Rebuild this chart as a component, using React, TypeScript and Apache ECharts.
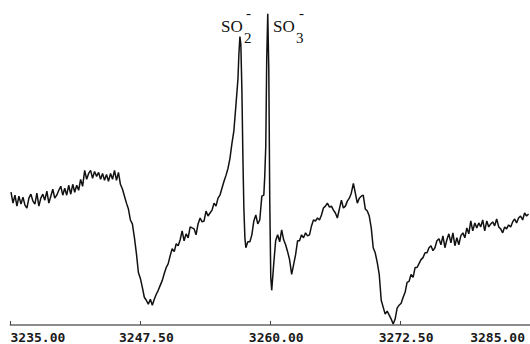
import React, { useEffect, useRef } from 'react';
import * as echarts from 'echarts';

// Magnetic field (G)
const fieldG = [
  3235.05, 3235.24, 3235.43, 3235.62, 3235.81, 3236.01, 3236.20, 3236.39, 3236.58, 3236.77,
  3236.96, 3237.16, 3237.35, 3237.54, 3237.73, 3237.92, 3238.11, 3238.30, 3238.50, 3238.69,
  3238.88, 3239.07, 3239.26, 3239.45, 3239.65, 3239.84, 3240.03, 3240.22, 3240.41, 3240.60,
  3240.80, 3240.99, 3241.18, 3241.37, 3241.56, 3241.75, 3241.94, 3242.14, 3242.33, 3242.52,
  3242.71, 3242.90, 3243.09, 3243.29, 3243.48, 3243.67, 3243.86, 3244.05, 3244.24, 3244.43,
  3244.63, 3244.82, 3245.01, 3245.20, 3245.39, 3245.58, 3245.78, 3245.97, 3246.16, 3246.35,
  3246.54, 3246.73, 3246.93, 3247.12, 3247.31, 3247.50, 3247.69, 3247.88, 3248.07, 3248.26,
  3248.46, 3248.65, 3248.84, 3249.03, 3249.22, 3249.41, 3249.61, 3249.80, 3249.99, 3250.18,
  3250.37, 3250.56, 3250.76, 3250.95, 3251.14, 3251.33, 3251.52, 3251.71, 3251.90, 3252.10,
  3252.29, 3252.48, 3252.67, 3252.86, 3253.05, 3253.25, 3253.44, 3253.63, 3253.82, 3254.01,
  3254.20, 3254.40, 3254.59, 3254.78, 3254.97, 3255.16, 3255.35, 3255.55, 3255.74, 3255.93,
  3256.12, 3256.31, 3256.50, 3256.69, 3256.89, 3256.98, 3257.08, 3257.17, 3257.27, 3257.37,
  3257.46, 3257.56, 3257.65, 3257.84, 3258.04, 3258.23, 3258.42, 3258.61, 3258.80, 3258.99,
  3259.19, 3259.38, 3259.47, 3259.57, 3259.66, 3259.76, 3259.86, 3259.95, 3260.05, 3260.14,
  3260.33, 3260.52, 3260.71, 3260.91, 3261.10, 3261.29, 3261.48, 3261.67, 3261.86, 3262.06,
  3262.25, 3262.44, 3262.63, 3262.82, 3263.01, 3263.20, 3263.40, 3263.59, 3263.78, 3263.97,
  3264.16, 3264.35, 3264.55, 3264.74, 3264.93, 3265.12, 3265.31, 3265.50, 3265.70, 3265.89,
  3266.08, 3266.27, 3266.46, 3266.65, 3266.85, 3267.04, 3267.23, 3267.42, 3267.61, 3267.80,
  3268.00, 3268.19, 3268.38, 3268.57, 3268.76, 3268.95, 3269.15, 3269.34, 3269.53, 3269.72,
  3269.91, 3270.10, 3270.30, 3270.49, 3270.68, 3270.87, 3271.06, 3271.25, 3271.45, 3271.64,
  3271.83, 3272.02, 3272.21, 3272.40, 3272.60, 3272.79, 3272.98, 3273.17, 3273.36, 3273.55,
  3273.75, 3273.94, 3274.13, 3274.32, 3274.51, 3274.70, 3274.90, 3275.09, 3275.28, 3275.47,
  3275.66, 3275.85, 3276.04, 3276.24, 3276.43, 3276.62, 3276.81, 3277.00, 3277.19, 3277.39,
  3277.58, 3277.77, 3277.96, 3278.15, 3278.34, 3278.54, 3278.73, 3278.92, 3279.11, 3279.30,
  3279.49, 3279.69, 3279.88, 3280.07, 3280.26, 3280.45, 3280.64, 3280.84, 3281.03, 3281.22,
  3281.41, 3281.60, 3281.79, 3281.99, 3282.18, 3282.37, 3282.56, 3282.75, 3282.94, 3283.14,
  3283.33, 3283.52, 3283.71, 3283.90, 3284.09, 3284.29, 3284.48, 3284.67, 3284.86
];

// EPR signal intensity (arbitrary units)
const intensity = [
  134, 123, 131, 120, 130, 122, 129, 121, 118, 128,
  132, 125, 122, 133, 120, 128, 132, 126, 135, 123,
  130, 137, 128, 131, 136, 140, 131, 138, 131, 141,
  132, 142, 134, 141, 136, 147, 140, 156, 147, 153,
  156, 148, 155, 150, 154, 147, 153, 146, 152, 145,
  153, 147, 156, 146, 154, 142, 137, 130, 123, 117,
  106, 102, 88, 72, 53, 47, 38, 28, 25, 21,
  26, 20, 26, 31, 35, 40, 45, 52, 58, 62,
  70, 77, 74, 82, 80, 86, 95, 85, 92, 88,
  99, 98, 97, 91, 102, 108, 104, 105, 115, 110,
  113, 116, 123, 120, 128, 131, 138, 145, 151, 158,
  168, 183, 196, 221, 248, 273, 291, 283, 238, 168,
  118, 88, 78, 84, 84, 91, 105, 111, 102, 106,
  130, 131, 150, 181, 268, 314, 258, 128, 48, 35,
  61, 85, 91, 84, 96, 86, 81, 74, 66, 51,
  61, 71, 85, 85, 91, 88, 93, 90, 91, 100,
  106, 105, 108, 106, 111, 118, 120, 123, 119, 120,
  116, 113, 108, 117, 126, 118, 120, 125, 128, 133,
  143, 133, 123, 128, 130, 131, 117, 115, 110, 98,
  78, 73, 63, 51, 25, 18, 11, 14, 10, 6,
  1, 6, 17, 20, 22, 28, 33, 43, 44, 51,
  48, 58, 58, 62, 66, 68, 73, 73, 78, 80,
  75, 78, 85, 87, 81, 90, 78, 86, 92, 83,
  93, 80, 88, 81, 90, 93, 88, 98, 92, 105,
  95, 103, 98, 103, 99, 106, 95, 105, 99, 102,
  104, 100, 107, 99, 97, 93, 99, 97, 101, 99,
  104, 107, 103, 108, 110, 106, 113, 110, 112
];

const tickValues = [3235, 3247.5, 3260, 3272.5, 3285];
const tickLabels = ['3235.00', '3247.50', '3260.00', '3272.50', '3285.00'];

const serif = '"Liberation Serif", "DejaVu Serif", serif';

export default function App() {
  const ref = useRef<HTMLDivElement>(null);
  useEffect(() => {
    const chart = echarts.init(ref.current as HTMLDivElement, null, { renderer: 'svg' });
    const labelFont = {
      fontFamily: '"DejaVu Sans Mono", monospace',
      fontWeight: 'bold',
      fontSize: 13,
      color: '#1a1a1a',
    };
    chart.setOption({
      animation: false,
      backgroundColor: '#ffffff',
      grid: { left: 10.5, right: -2.5, top: 0, bottom: 16 },
      xAxis: {
        type: 'value',
        min: 3235,
        max: 3285,
        interval: 12.5,
        axisLine: { lineStyle: { color: '#8c8c8c', width: 2 } },
        axisTick: { inside: true, length: 4, lineStyle: { color: '#444', width: 1 } },
        splitLine: { show: false },
        axisLabel: {
          margin: 6,
          showMinLabel: true,
          showMaxLabel: true,
          alignMinLabel: 'left',
          alignMaxLabel: 'right',
          ...labelFont,
          formatter: (v: number) => {
            const i = tickValues.findIndex((t) => Math.abs(t - v) < 1e-6);
            const t = i >= 0 ? tickLabels[i] : v.toFixed(2);
            if (i === 0) return `{a|${t}}`;
            if (i === tickValues.length - 1) return `{e|${t}}`;
            return `{m|${t}}`;
          },
          rich: {
            a: { ...labelFont },
            m: { ...labelFont, padding: [0, 0, 0, 12] },
            e: { ...labelFont, padding: [0, 5, 0, 0] },
          },
        },
      },
      yAxis: { type: 'value', min: 0, max: 328, show: false },
      series: [
        {
          type: 'line',
          data: fieldG.map((g, i) => [g, intensity[i]]),
          showSymbol: false,
          symbol: 'none',
          lineStyle: { color: '#111', width: 1.5 },
        },
      ],
      graphic: [
        { type: 'text', left: 221, top: 18, style: { text: 'SO', font: `17px ${serif}`, fill: '#111' } },
        { type: 'text', left: 244, top: 30, style: { text: '2', font: `15px ${serif}`, fill: '#111' } },
        { type: 'text', left: 246, top: 5, style: { text: '-', font: `15px ${serif}`, fill: '#111' } },
        { type: 'text', left: 273, top: 18, style: { text: 'SO', font: `17px ${serif}`, fill: '#111' } },
        { type: 'text', left: 296, top: 30, style: { text: '3', font: `15px ${serif}`, fill: '#111' } },
        { type: 'text', left: 299, top: 5, style: { text: '-', font: `15px ${serif}`, fill: '#111' } },
      ],
    });
    return () => chart.dispose();
  }, []);
  return <div ref={ref} style={{ position: 'fixed', left: 0, top: 0, width: 530, height: 344 }} />;
}
